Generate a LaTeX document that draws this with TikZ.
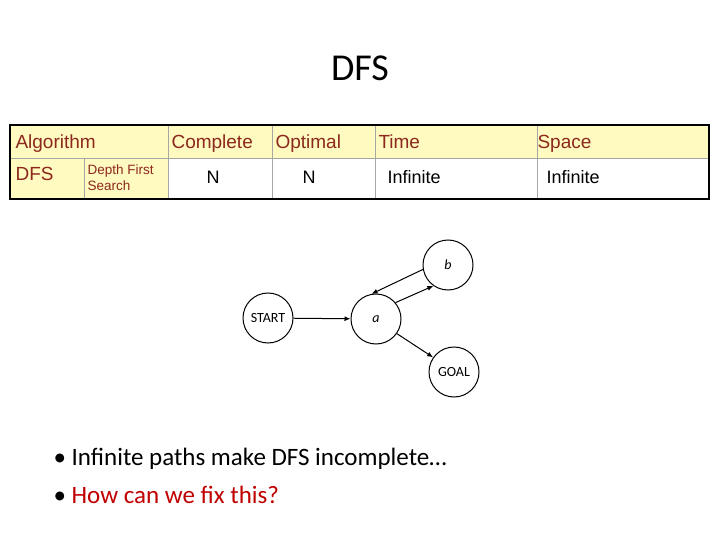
\documentclass[tikz,border=0pt]{standalone}
\usepackage{fontspec}
\setmainfont{Carlito}
\newfontfamily\arialfont{Liberation Sans}
\usetikzlibrary{arrows.meta}
\definecolor{hdrtext}{RGB}{140,40,30}
\definecolor{hdrfill}{RGB}{255,250,192}
\definecolor{bulletred}{RGB}{192,0,0}
\tikzset{
  state/.style={circle, draw, line width=1pt, minimum size=50pt, inner sep=0pt, font=\fontsize{14}{16}\selectfont},
  edge/.style={-{Latex[length=6pt,width=5pt]}, line width=1pt},
  hdr/.style={anchor=base west, text=hdrtext, font=\arialfont\fontsize{19}{21}\selectfont},
  cell/.style={anchor=base west, font=\arialfont\fontsize{18}{20}\selectfont}
}
\begin{document}
\begin{tikzpicture}[x=1pt,y=-1pt]
	\useasboundingbox (0,0) rectangle (720,540);
	
	% Title
	\node (title) at (360,68) {\fontsize{38}{44}\selectfont DFS};
	
	% Table fills
	\fill[hdrfill] (10,125) rectangle (709,158);
	\fill[hdrfill] (10,158) rectangle (168,199);
	\draw[gray!70] (10,158) -- (709,158);
	\draw[gray!70] (84,158) -- (84,199);
	\foreach \x in {168,272,375,537} {
		\draw[gray!70] (\x,125) -- (\x,199);
	}
	\draw[line width=2pt] (10,125) rectangle (709,199);
	
	% Header row
	\node[hdr] (alg) at (12,149) {Algorithm};
	\node[hdr] (cmp) at (168,149) {Complete};
	\node[hdr] (opt) at (272,149) {Optimal};
	\node[hdr] (tim) at (375,149) {Time};
	\node[hdr] (spc) at (534,149) {Space};
	
	% Data row
	\node[hdr] (dfs) at (12,181) {DFS};
	\node[anchor=west, text=hdrtext, align=left, font=\arialfont\fontsize{13.5}{16}\selectfont] (dfsname) at (84,178) {Depth First\\Search};
	\node[cell] (ncmp) at (203,184) {N};
	\node[cell] (nopt) at (299,184) {N};
	\node[cell] (itim) at (384,184) {Infinite};
	\node[cell] (ispc) at (543,184) {Infinite};
	
	% Graph
	\node[state] (start) at (268,318) {START};
	\node[state] (a) at (376,319) {\itshape a};
	\node[state] (b) at (448,265) {\itshape b};
	\node[state] (goal) at (454,372) {GOAL};
	\draw[edge] (start) -- (a);
	\draw[edge] (a.40) -- (b.235);
	\draw[edge] (b.190) -- (a.100);
	\draw[edge] (a.-35) -- (goal.145);
	
	% Bullets
	\node[anchor=west, font=\fontsize{25}{38}\selectfont, align=left] (bullets) at (50,476) {%
		•\ Infinite paths make DFS incomplete…\\
		•\ \textcolor{bulletred}{How can we fix this?}};
	
\end{tikzpicture}
\end{document}
